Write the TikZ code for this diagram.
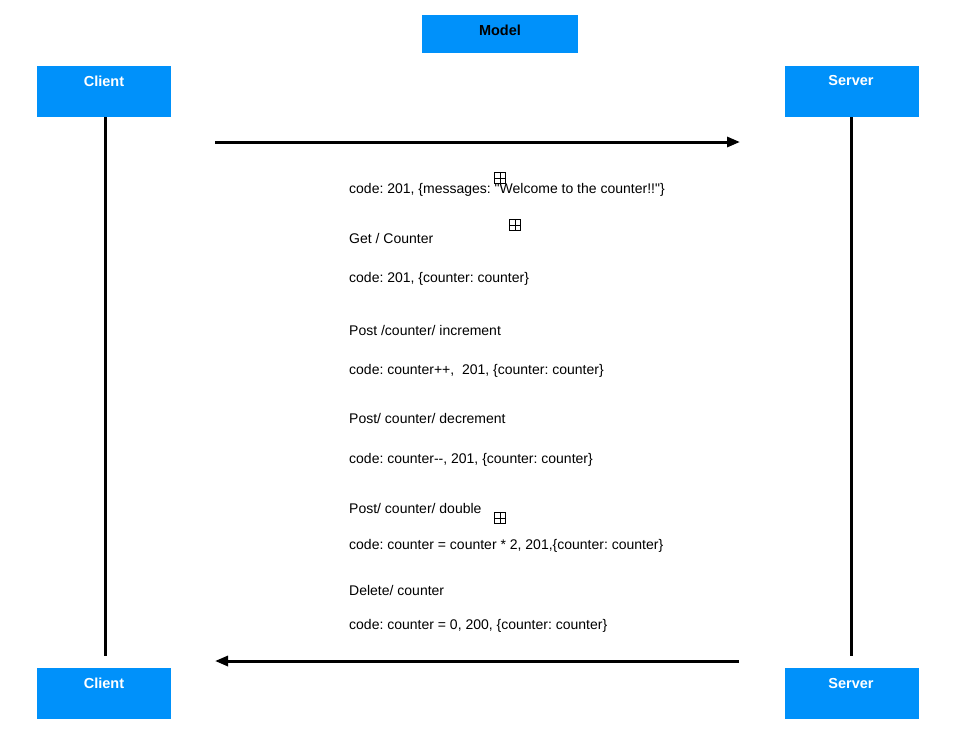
\documentclass[tikz,border=0pt]{standalone}
\usepackage{fontspec}
\setmainfont{Liberation Sans}
\usetikzlibrary{arrows.meta}
\definecolor{boxblue}{RGB}{0,145,250}
\frenchspacing
\begin{document}
\begin{tikzpicture}[x=1pt,y=-1pt,
  actor/.style={fill=boxblue,draw=none,minimum width=134pt,minimum height=51pt,anchor=north west,inner sep=0pt},
  actorlabel/.style={text=white,font=\bfseries\fontsize{14.5}{16}\selectfont},
  lifeline/.style={line width=3pt},
  msg/.style={line width=3pt,-{Triangle[length=13pt,width=10pt]}},
  lbl/.style={anchor=west,inner sep=0pt,font=\fontsize{14}{16}\selectfont},
  plusbox/.style={draw,line width=0.7pt,minimum size=11pt,inner sep=0pt,
    path picture={\draw[line width=0.7pt] (path picture bounding box.north) -- (path picture bounding box.south)
      (path picture bounding box.west) -- (path picture bounding box.east);}}]
\useasboundingbox (0,0) rectangle (954,732);
% Model
\node[fill=boxblue,minimum width=156pt,minimum height=38pt,anchor=north west,inner sep=0pt] (model) at (422,15) {};
\node[font=\bfseries\fontsize{14.5}{16}\selectfont] (modeltxt) at (500,30) {Model};
% actors
\node[actor] (ct) at (37,66) {};
\node[actor] (st) at (785,66) {};
\node[actor] (cb) at (37,668) {};
\node[actor] (sb) at (785,668) {};
\node[actorlabel] (ctl) at (104,81) {Client};
\node[actorlabel] (stl) at (851,81) {Server};
\node[actorlabel] (cbl) at (104,683) {Client};
\node[actorlabel] (sbl) at (851,683) {Server};
% lifelines
\coordinate (cl1) at (105,117);
\coordinate (cl2) at (105,656);
\coordinate (sl1) at (851,117);
\coordinate (sl2) at (851,656);
\draw[lifeline] (cl1) -- (cl2);
\draw[lifeline] (sl1) -- (sl2);
% messages
\coordinate (a1) at (215,142);
\coordinate (a2) at (740,142);
\coordinate (b1) at (739,661);
\coordinate (b2) at (215,661);
\draw[msg] (a1) -- (a2);
\draw[msg] (b1) -- (b2);
% labels
\node[lbl] (t1) at (349,190) {code: 201, \{messages: \textquotedbl Welcome to the counter!!\textquotedbl\}};
\node[lbl] (t2) at (349,238) {Get / Counter};
\node[lbl] (t3) at (349,279) {code: 201, \{counter: counter\}};
\node[lbl] (t4) at (349,330) {Post /counter/ increment};
\node[lbl] (t5) at (349,371) {code: counter++, \ 201, \{counter: counter\}};
\node[lbl] (t6) at (349,418) {Post/ counter/ decrement};
\node[lbl] (t7) at (349,460) {code: counter-{}-, 201, \{counter: counter\}};
\node[lbl] (t8) at (349,508) {Post/ counter/ double};
\node[lbl] (t9) at (349,546) {code: counter = counter * 2, 201,\{counter: counter\}};
\node[lbl] (t10) at (349,590) {Delete/ counter};
\node[lbl] (t11) at (349,626) {code: counter = 0, 200, \{counter: counter\}};
% plus icons
\node[plusbox] (p1) at (500,178) {};
\node[plusbox] (p2) at (515,225) {};
\node[plusbox] (p3) at (500,518) {};
\end{tikzpicture}
\end{document}
